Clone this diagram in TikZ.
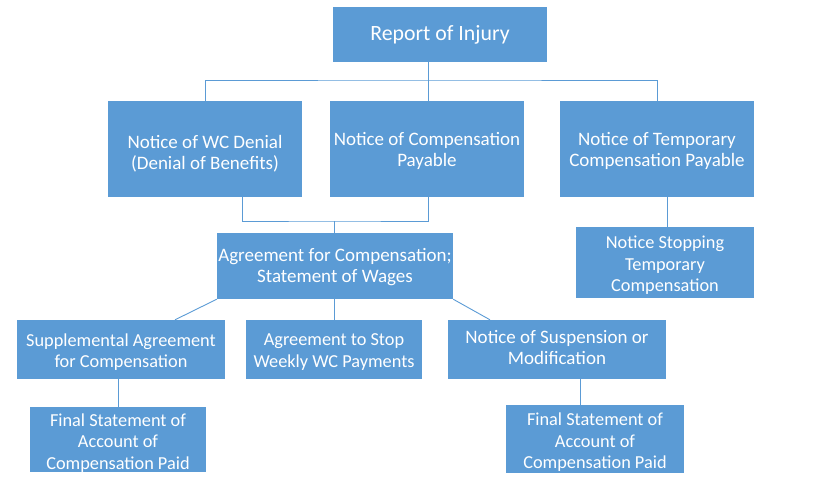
\documentclass[tikz,border=0pt]{standalone}
\usepackage{fontspec}
\setmainfont{Carlito}
\definecolor{boxblue}{HTML}{5B9BD5}
\definecolor{lineblue}{HTML}{5B9BD5}
\newcommand\tallfirst[1]{\rule{0pt}{#1}}
\begin{document}
\begin{tikzpicture}[x=1pt,y=-1pt,
  box/.style={rectangle, fill=boxblue, draw=none, text=white, align=center, inner sep=0pt,
    font=\fontsize{19}{21}\selectfont},
  small/.style={font=\fontsize{18.3}{21.5}\selectfont},
  conn/.style={draw=lineblue, line width=0.9pt}]
\useasboundingbox (0,0) rectangle (825,496);
\node[box, minimum width=214pt, minimum height=55pt, font=\fontsize{21.8}{24}\selectfont] (R) at (440,34.5) {Report of Injury};
\node[box, minimum width=194pt, minimum height=96pt] (D) at (205,149) {\tallfirst{22pt}Notice of WC Denial\\(Denial of Benefits)};
\node[box, minimum width=194pt, minimum height=96pt] (C) at (427,149) {\tallfirst{18pt}Notice of Compensation\\Payable};
\node[box, minimum width=194pt, minimum height=96pt] (T) at (657,149) {\tallfirst{18pt}Notice of Temporary\\Compensation Payable};
\node[box, minimum width=236pt, minimum height=66pt] (A) at (335,266) {\tallfirst{16pt}Agreement for Compensation;\\Statement of Wages};
\node[box, small, minimum width=178pt, minimum height=71pt] (S) at (665,262.5) {\tallfirst{18pt}Notice Stopping\\Temporary\\Compensation};
\node[box, small, minimum width=208pt, minimum height=59pt] (SA) at (121,349.5) {\tallfirst{18pt}Supplemental Agreement\\for Compensation};
\node[box, small, minimum width=176pt, minimum height=59pt] (AS) at (334,349.5) {\tallfirst{17pt}Agreement to Stop\\Weekly WC Payments};
\node[box, minimum width=218pt, minimum height=59pt] (NS) at (557,349.5) {Notice of Suspension or\\Modification\rule[-4pt]{0pt}{4pt}};
\node[box, small, minimum width=176pt, minimum height=63pt] (FL) at (118,439.5) {\tallfirst{19.5pt}Final Statement of\\Account of\\Compensation Paid};
\node[box, small, minimum width=178pt, minimum height=68pt] (FR) at (595,439) {\tallfirst{19.5pt}Final Statement of\\Account of\\Compensation Paid};
\coordinate (bus) at (428,80);
\coordinate (j2) at (334,221);
\draw[conn] (D.north) |- (bus) -| (T.north);
\draw[conn] ([xshift=1pt]C.north) -- ([xshift=1pt]C.north |- R.south);
\draw[conn] ([xshift=37pt]D.south) |- (j2) -| ([xshift=1pt]C.south);
\draw[conn] (j2) -- (j2 |- A.north);
\draw[conn] (A.south west) -- ([xshift=54pt]SA.north);
\draw[conn] (A.south -| AS.north) -- (AS.north);
\draw[conn] (A.south east) -- ([xshift=-67pt]NS.north);
\draw[conn] ([xshift=10pt]T.south) -- ([xshift=2pt]S.north);
\draw[conn] (FL.north |- SA.south) -- (FL.north);
\draw[conn] ([xshift=23pt]NS.south) -- ([xshift=-15pt]FR.north);
\end{tikzpicture}
\end{document}
